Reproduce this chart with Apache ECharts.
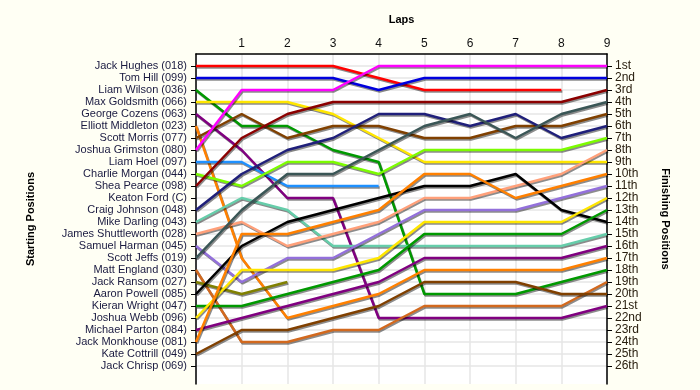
<!DOCTYPE html>
<html><head><meta charset="utf-8">
<script src="https://cdn.jsdelivr.net/npm/echarts@6/dist/echarts.min.js"></script>
<style>html,body{margin:0;padding:0;background:#fffff4;}#c{width:700px;height:390px;}</style>
</head><body><div id="c"></div>
<script>
const laps = [0,1,2,3,4,5,6,7,8,9];
const lapLabels = ['', '1','2','3','4','5','6','7','8','9'];
const drivers = ['Jack Hughes (018)','Tom Hill (099)','Liam Wilson (036)','Max Goldsmith (066)','George Cozens (063)','Elliott Middleton (023)','Scott Morris (077)','Joshua Grimston (080)','Liam Hoel (097)','Charlie Morgan (044)','Shea Pearce (098)','Keaton Ford (C)','Craig Johnson (048)','Mike Darling (043)','James Shuttleworth (028)','Samuel Harman (045)','Scott Jeffs (019)','Matt England (030)','Jack Ransom (027)','Aaron Powell (085)','Kieran Wright (047)','Joshua Webb (096)','Michael Parton (084)','Jack Monkhouse (081)','Kate Cottrill (049)','Jack Chrisp (069)'];
const finishLabels = ['1st','2nd','3rd','4th','5th','6th','7th','8th','9th','10th','11th','12th','13th','14th','15th','16th','17th','18th','19th','20th','21st','22nd','23rd','24th','25th','26th'];
const colors = ['#ff0000','#0000dd','#009900','#ffe600','#800080','#ff8000','#804000','#ff00ff','#1e90ff','#7cfc00','#8b0000','#808080','#1f1f7a','#66cdaa','#ffa07a','#9370db','#3a5656','#d2691e','#808000','#000000','#009900','#ffe600','#800080','#ff8000','#804000','#808080'];
// positions per lap (lap 0 = start)
const pos_hughes = [1,1,1,1,2,3,3,3,3];
const pos_hill = [2,2,2,2,3,2,2,2,2,2];
const pos_wilson = [3,6,6,8,9,20,20,20,19,18];
const pos_goldsmith = [4,4,4,5,7,9,9,9,9,9];
const pos_cozens = [5,8,12,12,22,22,22,22,22,21];
const pos_middleton = [6,17,22,21,20,18,18,18,18,17];
const pos_morris = [7,5,7,6,6,7,7,6,6,5];
const pos_grimston = [8,3,3,3,1,1,1,1,1,1];
const pos_hoel = [9,9,11,11,11];
const pos_morgan = [10,11,9,9,10,8,8,8,8,7];
const pos_pearce = [11,7,5,4,4,4,4,4,4,3];
const pos_ford = [];
const pos_johnson = [13,10,8,7,5,5,6,5,7,6];
const pos_darling = [14,12,13,16,16,16,16,16,16,15];
const pos_shuttleworth = [15,14,16,15,14,12,12,11,10,8];
const pos_harman = [16,19,17,17,15,13,13,13,12,11];
const pos_jeffs = [17,13,10,10,8,6,5,7,5,4];
const pos_england = [18,24,24,23,23,21,21,21,21,19];
const pos_ransom = [19,20,19];
const pos_powell = [20,16,14,13,12,11,11,10,13,14];
const pos_wright = [21,21,20,19,18,15,15,15,15,13];
const pos_webb = [22,18,18,18,17,14,14,14,14,12];
const pos_parton = [23,22,21,20,19,17,17,17,17,16];
const pos_monkhouse = [24,15,15,14,13,10,10,12,11,10];
const pos_cottrill = [25,23,23,22,21,19,19,19,20,20];
const pos_chrisp = [];
const positions = [pos_hughes,pos_hill,pos_wilson,pos_goldsmith,pos_cozens,pos_middleton,pos_morris,pos_grimston,pos_hoel,pos_morgan,pos_pearce,pos_ford,pos_johnson,pos_darling,pos_shuttleworth,pos_harman,pos_jeffs,pos_england,pos_ransom,pos_powell,pos_wright,pos_webb,pos_parton,pos_monkhouse,pos_cottrill,pos_chrisp];

const rowVals = drivers.map((d,i)=>i+1);
const font = 'Liberation Sans, Arial, sans-serif';
const series = drivers.map((d,i)=>({
  name: d, type:'line', symbol:'none', silent:true,
  data: positions[i].map((p,k)=>[laps[k],p]),
  lineStyle:{color:colors[i], width:2.5, shadowColor:'rgba(0,0,0,0.45)', shadowOffsetX:1, shadowOffsetY:1.5, shadowBlur:0},
  z: 2
}));

const chart = echarts.init(document.getElementById('c'), null, {renderer:'canvas'});
chart.setOption({
  animation:false,
  backgroundColor:'#fffff4',
  grid:{left:196, right:93, top:54, bottom:6, show:true, backgroundColor:'#ffffff', borderWidth:0},
  xAxis:{type:'value', min:0, max:9, interval:1, position:'top',
    name:'Laps', nameLocation:'middle', nameGap:29,
    nameTextStyle:{fontFamily:font, fontSize:11, fontWeight:'bold', color:'#000'},
    axisLine:{show:true, lineStyle:{color:'#000', width:1.5}},
    axisTick:{show:false},
    axisLabel:{margin:4, fontFamily:font, fontSize:12, color:'#111', formatter:(v)=>lapLabels[v]||''},
    splitLine:{show:true, lineStyle:{color:'#e6e6e6', width:1.5}}
  },
  yAxis:[{type:'value', inverse:true, min:0, max:27.5, interval:1, position:'left',
    name:'Starting Positions', nameLocation:'middle', nameGap:160, nameRotate:90,
    nameTextStyle:{fontFamily:font, fontSize:11, fontWeight:'bold', color:'#000'},
    axisLine:{show:true, lineStyle:{color:'#000', width:1.5}},
    axisTick:{show:true, length:5, customValues:rowVals, lineStyle:{color:'#000'}},
    axisLabel:{margin:9, fontFamily:font, fontSize:11, color:'#1a1a40', customValues:rowVals, formatter:(v)=>drivers[v-1]||''},
    splitLine:{show:true, lineStyle:{color:'#e6e6e6', width:1.5}}
  },{type:'value', inverse:true, min:0, max:27.5, interval:1, position:'right',
    name:'Finishing Positions', nameLocation:'middle', nameGap:53, nameRotate:-90,
    nameTextStyle:{fontFamily:font, fontSize:11, fontWeight:'bold', color:'#000'},
    axisLine:{show:true, lineStyle:{color:'#000', width:1.5}},
    axisTick:{show:true, length:5, customValues:rowVals, lineStyle:{color:'#000'}},
    axisLabel:{margin:8, fontFamily:font, fontSize:12, color:'#2a2010', customValues:rowVals, formatter:(v)=>finishLabels[v-1]||''},
    splitLine:{show:false}
  }],
  series: series
});
</script></body></html>
